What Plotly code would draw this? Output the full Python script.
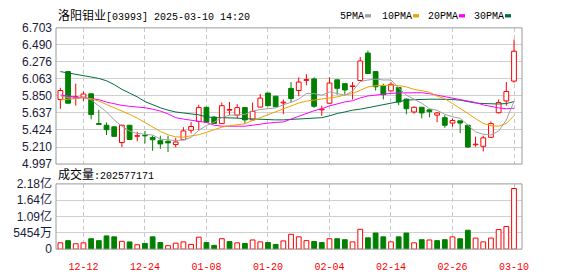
import plotly.graph_objects as go

# ---------------- data ----------------
dates = ["12-09", "12-10", "12-11", "12-12", "12-13", "12-16", "12-17", "12-18", "12-19", "12-20",
         "12-23", "12-24", "12-27", "12-30", "12-31", "01-02", "01-03", "01-06", "01-07", "01-08",
         "01-09", "01-10", "01-13", "01-14", "01-15", "01-16", "01-17", "01-20", "01-21", "01-22",
         "01-23", "01-24", "01-27", "01-28", "02-03", "02-04", "02-05", "02-06", "02-07", "02-10",
         "02-11", "02-12", "02-13", "02-14", "02-17", "02-18", "02-19", "02-20", "02-21", "02-24",
         "02-25", "02-26", "02-27", "02-28", "03-03", "03-04", "03-05", "03-06", "03-07", "03-10"]

opens = [5.806, 6.155, 5.825, 5.835, 5.877, 5.505, 5.483, 5.463, 5.266, 5.483,
         5.345, 5.356, 5.329, 5.290, 5.281, 5.242, 5.301, 5.420, 5.530, 5.708,
         5.586, 5.503, 5.672, 5.610, 5.704, 5.550, 5.711, 5.886, 5.847, 5.762,
         5.945, 5.918, 6.045, 6.063, 5.676, 5.759, 6.052, 6.004, 5.968, 6.043,
         6.387, 6.155, 5.972, 5.913, 5.957, 5.810, 5.649, 5.708, 5.676, 5.610,
         5.578, 5.510, 5.538, 5.483, 5.238, 5.219, 5.332, 5.640, 5.787, 6.036]
highs = [5.953, 6.160, 6.004, 5.906, 5.880, 5.676, 5.518, 5.470, 5.490, 5.485,
         5.400, 5.412, 5.352, 5.352, 5.352, 5.325, 5.459, 5.522, 5.740, 5.712,
         5.594, 5.767, 5.775, 5.747, 5.708, 5.767, 5.874, 5.890, 5.850, 5.806,
         6.024, 6.083, 6.123, 6.083, 5.728, 6.083, 6.055, 6.008, 6.024, 6.339,
         6.419, 6.160, 6.004, 6.024, 5.960, 5.820, 5.720, 5.712, 5.688, 5.649,
         5.610, 5.569, 5.540, 5.485, 5.341, 5.352, 5.530, 5.806, 6.024, 6.557]
lows = [5.688, 5.755, 5.728, 5.787, 5.558, 5.490, 5.361, 5.340, 5.210, 5.300,
        5.281, 5.254, 5.163, 5.187, 5.147, 5.207, 5.298, 5.380, 5.420, 5.510,
        5.500, 5.500, 5.610, 5.569, 5.498, 5.545, 5.705, 5.720, 5.710, 5.621,
        5.767, 5.847, 5.984, 5.700, 5.601, 5.750, 5.866, 5.866, 5.806, 6.040,
        6.125, 5.918, 5.806, 5.905, 5.735, 5.621, 5.629, 5.569, 5.581, 5.522,
        5.451, 5.463, 5.384, 5.200, 5.214, 5.155, 5.320, 5.630, 5.728, 6.016]
closes = [5.918, 5.759, 5.840, 5.874, 5.617, 5.493, 5.427, 5.344, 5.483, 5.305,
          5.352, 5.350, 5.301, 5.249, 5.262, 5.273, 5.412, 5.467, 5.704, 5.522,
          5.506, 5.728, 5.680, 5.704, 5.550, 5.657, 5.823, 5.728, 5.716, 5.772,
          5.818, 6.024, 6.055, 5.720, 5.685, 6.012, 5.945, 5.925, 5.976, 6.288,
          6.131, 5.965, 5.866, 5.996, 5.775, 5.690, 5.708, 5.637, 5.652, 5.637,
          5.483, 5.542, 5.510, 5.210, 5.246, 5.325, 5.503, 5.767, 5.906, 6.410]
volumes = [21200000, 28400000, 18000000, 21000000, 34800000, 28400000, 44200000, 41000000, 26200000, 24200000,
           14700000, 19000000, 41000000, 22000000, 11600000, 20000000, 24200000, 15800000, 40000000, 22000000,
           12600000, 34800000, 25300000, 21000000, 19000000, 30600000, 24200000, 22000000, 15800000, 27500000,
           49600000, 41000000, 28400000, 25300000, 22000000, 34800000, 34800000, 31600000, 24200000, 66300000,
           37900000, 53700000, 41000000, 24200000, 41000000, 53700000, 21000000, 31600000, 30600000, 28400000,
           31600000, 41000000, 34800000, 63200000, 37000000, 24200000, 37000000, 65400000, 75800000, 202577171]

ma5 = [5.85, 5.83, 5.82, 5.83, 5.80, 5.72, 5.65, 5.55, 5.47, 5.41,
       5.38, 5.37, 5.36, 5.31, 5.30, 5.29, 5.30, 5.33, 5.42, 5.48,
       5.52, 5.58, 5.61, 5.61, 5.62, 5.66, 5.68, 5.69, 5.70, 5.74,
       5.77, 5.81, 5.88, 5.88, 5.86, 5.90, 5.88, 5.86, 5.91, 6.03,
       6.05, 6.06, 6.05, 6.05, 5.95, 5.86, 5.81, 5.76, 5.69, 5.67,
       5.62, 5.59, 5.57, 5.48, 5.40, 5.37, 5.36, 5.41, 5.55, 5.78]
ma10 = [5.800, 5.809, 5.820, 5.826, 5.815, 5.785, 5.743, 5.702, 5.666, 5.619,
        5.572, 5.518, 5.465, 5.406, 5.364, 5.337, 5.335, 5.347, 5.364, 5.394,
        5.429, 5.459, 5.477, 5.489, 5.501, 5.542, 5.578, 5.613, 5.649, 5.684,
        5.726, 5.761, 5.785, 5.797, 5.806, 5.820, 5.838, 5.862, 5.880, 5.921,
        5.963, 5.980, 5.984, 5.984, 5.980, 5.963, 5.933, 5.915, 5.897, 5.847,
        5.815, 5.755, 5.696, 5.631, 5.566, 5.506, 5.477, 5.471, 5.506, 5.601]
ma20 = [5.862, 5.844, 5.835, 5.830, 5.820, 5.803, 5.773, 5.749, 5.732, 5.720,
        5.714, 5.702, 5.684, 5.661, 5.625, 5.578, 5.560, 5.548, 5.536, 5.518,
        5.483, 5.471, 5.471, 5.471, 5.471, 5.483, 5.501, 5.510, 5.518, 5.524,
        5.560, 5.595, 5.635, 5.665, 5.690, 5.725, 5.750, 5.775, 5.790, 5.825,
        5.850, 5.862, 5.872, 5.882, 5.888, 5.888, 5.890, 5.890, 5.878, 5.860,
        5.840, 5.815, 5.803, 5.788, 5.768, 5.738, 5.715, 5.700, 5.690, 5.696]
ma30 = [6.155, 6.140, 6.123, 6.102, 6.087, 6.069, 6.040, 5.992, 5.933, 5.886,
        5.838, 5.779, 5.737, 5.702, 5.672, 5.649, 5.637, 5.625, 5.613, 5.589,
        5.578, 5.578, 5.578, 5.572, 5.566, 5.560, 5.554, 5.550, 5.550, 5.550,
        5.554, 5.560, 5.566, 5.572, 5.578, 5.601, 5.631, 5.649, 5.672, 5.684,
        5.702, 5.726, 5.743, 5.761, 5.779, 5.797, 5.803, 5.809, 5.809, 5.809,
        5.809, 5.806, 5.797, 5.779, 5.761, 5.755, 5.749, 5.749, 5.755, 5.779]

price_ticks = [4.997, 5.210, 5.424, 5.637, 5.850, 6.063, 6.276, 6.490, 6.703]
price_tick_labels = ["4.997", "5.210", "5.424", "5.637", "5.850", "6.063", "6.276", "6.490", "6.703"]
vol_ticks = [0, 54540000, 109000000, 164000000, 218000000]
vol_tick_labels = ["0", "5454万", "1.09亿", "1.64亿", "2.18亿"]
date_ticks = ["12-12", "12-24", "01-08", "01-20", "02-04", "02-14", "02-26", "03-10"]

title_name = "洛阳钼业"
title_rest = "[03993] 2025-03-10 14:20"
vol_title = "成交量"
ma_names = ["5PMA", "10PMA", "20PMA", "30PMA"]

# ---------------- styling ----------------
W, H = 578, 276
L, R = 56, 522
RED, GREEN = "#ff0000", "#008000"
MA_COLORS = ["#a0a0a0", "#f0a000", "#ff00ff", "#006f3a"]


def fx(px):
    return (px - L) / (R - L)


def fy(py):
    return 1 - py / H


n = len(dates)
xs = list(range(n))
tick_pos = [dates.index(d) for d in date_ticks]

# candle bodies
bases, heights, body_fill, body_line = [], [], [], []
for o, c in zip(opens, closes):
    lo, hi = min(o, c), max(o, c)
    h = max(hi - lo, 0.006)
    bases.append(lo)
    heights.append(h)
    if c >= o:
        body_fill.append("#ffffff")
        body_line.append(RED)
    else:
        body_fill.append(GREEN)
        body_line.append(GREEN)

# wicks (upper and lower separately so hollow bodies stay clean)
wick = {RED: ([], []), GREEN: ([], [])}
for i, (o, hgh, low, c) in enumerate(zip(opens, highs, lows, closes)):
    col = RED if c >= o else GREEN
    wx, wy = wick[col]
    top, bot = max(o, c), min(o, c)
    wx += [i, i, None, i, i, None]
    wy += [top, hgh, None, low, bot, None]

# volume colours: close vs previous close
vol_fill, vol_line = [], []
for i in range(n):
    up = closes[i] >= (closes[i - 1] if i > 0 else opens[i])
    vol_fill.append("#ffffff" if up else GREEN)
    vol_line.append(RED if up else GREEN)

fig = go.Figure()

fig.add_trace(go.Bar(x=xs, y=heights, base=bases, width=0.62,
                     marker=dict(color=body_fill, line=dict(color=body_line, width=1)),
                     xaxis="x", yaxis="y", showlegend=False, hoverinfo="skip"))
for col, (wx, wy) in wick.items():
    fig.add_trace(go.Scatter(x=wx, y=wy, mode="lines", line=dict(color=col, width=1),
                             xaxis="x", yaxis="y", showlegend=False, hoverinfo="skip"))

for vals, col in zip([ma30, ma20, ma10, ma5], MA_COLORS[::-1]):
    fig.add_trace(go.Scatter(x=xs, y=vals, mode="lines", line=dict(color=col, width=1),
                             xaxis="x", yaxis="y", showlegend=False, hoverinfo="skip"))

fig.add_trace(go.Bar(x=xs, y=volumes, width=0.62,
                     marker=dict(color=vol_fill, line=dict(color=vol_line, width=1)),
                     xaxis="x2", yaxis="y2", showlegend=False, hoverinfo="skip"))

xr = [-0.57, 60.04]
grid_x = dict(range=xr, tickvals=tick_pos, showgrid=True, gridcolor="#c8c8c8",
              griddash="4px,3px", gridwidth=1, zeroline=False, showline=False, ticks="",
              fixedrange=True)
fig.update_layout(
    width=W, height=H,
    margin=dict(l=L, r=W - R, t=0, b=0),
    paper_bgcolor="#ffffff", plot_bgcolor="#ffffff",
    barmode="overlay", hovermode=False, showlegend=False,
    xaxis=dict(domain=[0, 1], anchor="y", showticklabels=False, **grid_x),
    xaxis2=dict(domain=[0, 1], anchor="y2", showticklabels=True, ticktext=date_ticks,
                tickfont=dict(family="Liberation Mono", size=10, color=RED),
                ticklabelstandoff=10, **grid_x),
    yaxis=dict(domain=[fy(165), fy(21)], range=[price_ticks[0], price_ticks[-1]],
               tickvals=price_ticks, ticktext=price_tick_labels,
               tickfont=dict(family="Liberation Sans", size=12, color="#1a1a3a"),
               showgrid=True, gridcolor="#d0d0d0", zeroline=False, ticks="",
               ticklabelstandoff=3, fixedrange=True),
    yaxis2=dict(domain=[fy(255), fy(186)], range=[0, vol_ticks[-1]],
                tickvals=vol_ticks, ticktext=vol_tick_labels,
                tickfont=dict(family="Liberation Sans, Noto Sans CJK SC", size=12, color="#1a1a3a"),
                showgrid=True, gridcolor="#d0d0d0", zeroline=False, ticks="",
                ticklabelstandoff=3, fixedrange=True),
)

# panel frames
for xa, ya in [("x", "y"), ("x2", "y2")]:
    fig.add_shape(type="rect", xref=f"{xa} domain", yref=f"{ya} domain",
                  x0=0, x1=1, y0=0, y1=1, line=dict(color="#999999", width=1),
                  fillcolor="rgba(0,0,0,0)", layer="above")

# title
fig.add_annotation(x=fx(56), y=fy(8.5), xref="paper", yref="paper", xanchor="left",
                   yanchor="middle", showarrow=False,
                   text=f"<span style='font-size:12px'>{title_name}</span>{title_rest}",
                   font=dict(family="Liberation Mono, Noto Sans CJK SC", size=10, color="#000000"))

# volume label
fig.add_annotation(x=fx(56), y=fy(176.5), xref="paper", yref="paper", xanchor="left",
                   yanchor="middle", showarrow=False,
                   text=f"<span style='font-size:12px'>{vol_title}</span>:{volumes[-1]}",
                   font=dict(family="Liberation Mono, Noto Sans CJK SC", size=10, color="#000000"))

# legend (text + colour swatch)
legend_x = [338, 380, 426, 472]
swatch_x = [365, 413, 459, 505]
for name, lx, sx, col in zip(ma_names, legend_x, swatch_x, MA_COLORS):
    fig.add_annotation(x=fx(lx), y=fy(8.5), xref="paper", yref="paper", xanchor="left",
                       yanchor="middle", showarrow=False, text=name,
                       font=dict(family="Liberation Mono", size=10, color="#000000"))
    fig.add_shape(type="rect", xref="paper", yref="paper",
                  x0=fx(sx), x1=fx(sx + 6), y0=fy(10), y1=fy(6.5),
                  line=dict(width=0), fillcolor=col)

fig.write_html("out.html", config={"displayModeBar": False, "staticPlot": True})
